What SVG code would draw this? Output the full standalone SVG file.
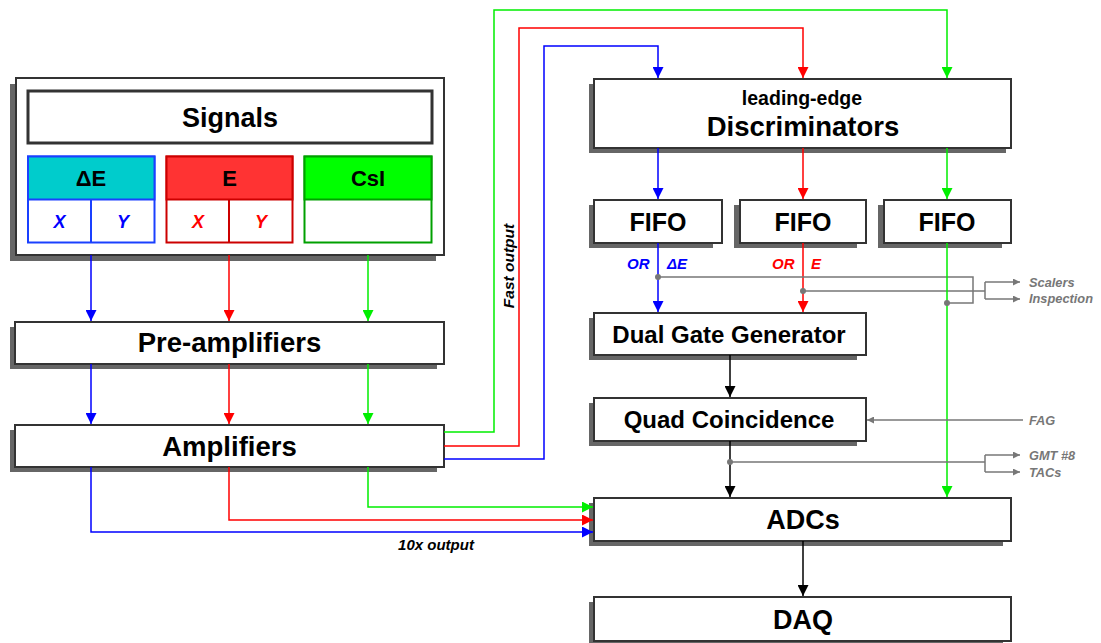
<svg xmlns="http://www.w3.org/2000/svg" width="1101" height="643" viewBox="0 0 1101 643">
<style>
.box{fill:#fff;stroke:#333;stroke-width:2}
.sh{fill:#666}
.t{font-family:"Liberation Sans",Arial,sans-serif;font-weight:bold;text-anchor:middle;fill:#000}
.lbl{font-family:"Liberation Sans",Arial,sans-serif;font-weight:bold;font-style:italic}
.g{fill:#777;font-size:12.8px}
.ln{fill:none;stroke-width:1.5}
.b{stroke:#0000ff}.r{stroke:#ff0000}.gr{stroke:#00ee00}.k{stroke:#000}.gy{stroke:#777}
</style>
<defs>
<marker id="ab" viewBox="0 0 10 10" refX="10" refY="5" markerWidth="11" markerHeight="11" markerUnits="userSpaceOnUse" orient="auto"><path d="M0,0L10,5L0,10z" fill="#0000ff"/></marker>
<marker id="ar" viewBox="0 0 10 10" refX="10" refY="5" markerWidth="11" markerHeight="11" markerUnits="userSpaceOnUse" orient="auto"><path d="M0,0L10,5L0,10z" fill="#ff0000"/></marker>
<marker id="ag" viewBox="0 0 10 10" refX="10" refY="5" markerWidth="11" markerHeight="11" markerUnits="userSpaceOnUse" orient="auto"><path d="M0,0L10,5L0,10z" fill="#00ee00"/></marker>
<marker id="ak" viewBox="0 0 10 10" refX="10" refY="5" markerWidth="11" markerHeight="11" markerUnits="userSpaceOnUse" orient="auto"><path d="M0,0L10,5L0,10z" fill="#000"/></marker>
<marker id="ay" viewBox="0 0 10 10" refX="10" refY="5" markerWidth="8" markerHeight="7" markerUnits="userSpaceOnUse" orient="auto"><path d="M0,0L10,5L0,10z" fill="#777"/></marker>
</defs>

<g id="signals">
<rect class="sh" x="10" y="84" width="426" height="177"/>
<rect class="box" x="16" y="78" width="428" height="177"/>
<rect fill="#fff" stroke="#333" stroke-width="3" x="28" y="91" width="404" height="52"/>
<text class="t" x="230" y="126.5" font-size="27">Signals</text>
<g id="sig-de">
<rect x="28" y="156.5" width="126.5" height="86" fill="#fff" stroke="#1a40ff" stroke-width="2"/>
<rect x="28" y="156.5" width="126.5" height="43" fill="#00cccc" stroke="#1a40ff" stroke-width="2"/>
<line x1="91" y1="199.5" x2="91" y2="242.5" stroke="#1a40ff" stroke-width="2"/>
<text class="t" x="91" y="185.5" font-size="22">ΔE</text>
<text class="lbl" x="59.5" y="227.5" font-size="18" fill="#0000ff" text-anchor="middle">X</text>
<text class="lbl" x="123" y="227.5" font-size="18" fill="#0000ff" text-anchor="middle">Y</text>
</g>
<g id="sig-e">
<rect x="166.5" y="156.5" width="126" height="86" fill="#fff" stroke="#cc0000" stroke-width="2"/>
<rect x="166.5" y="156.5" width="126" height="43" fill="#ff3333" stroke="#cc0000" stroke-width="2"/>
<line x1="229" y1="199.5" x2="229" y2="242.5" stroke="#cc0000" stroke-width="2"/>
<text class="t" x="229.5" y="185.5" font-size="22">E</text>
<text class="lbl" x="198" y="227.5" font-size="18" fill="#ff0000" text-anchor="middle">X</text>
<text class="lbl" x="261" y="227.5" font-size="18" fill="#ff0000" text-anchor="middle">Y</text>
</g>
<g id="sig-csi">
<rect x="304.5" y="156.5" width="127" height="86" fill="#fff" stroke="#00a000" stroke-width="2"/>
<rect x="304.5" y="156.5" width="127" height="43" fill="#00ff00" stroke="#00a000" stroke-width="2"/>
<text class="t" x="368" y="185.5" font-size="22">CsI</text>
</g>
</g>

<g id="preamp">
<rect class="sh" x="10" y="327" width="427" height="42"/>
<rect class="box" x="15" y="322" width="429" height="42"/>
<text class="t" x="229.5" y="352" font-size="27.5">Pre-amplifiers</text>
</g>
<g id="amp">
<rect class="sh" x="10" y="430" width="427" height="42"/>
<rect class="box" x="15" y="425" width="429" height="42"/>
<text class="t" x="229.5" y="455.5" font-size="27.5">Amplifiers</text>
</g>
<g id="disc">
<rect class="sh" x="589" y="84" width="417" height="69"/>
<rect class="box" x="594" y="79" width="417" height="69"/>
<text x="802" y="105" font-size="19.5" font-weight="bold" text-anchor="middle" font-family="'Liberation Sans',Arial,sans-serif" fill="#000">leading-edge</text>
<text class="t" x="803" y="136" font-size="27.5">Discriminators</text>
</g>
<g id="fifo1">
<rect class="sh" x="589" y="205" width="124" height="43"/>
<rect class="box" x="594" y="200" width="128" height="43"/>
<text class="t" x="658" y="230.5" font-size="25">FIFO</text>
</g>
<g id="fifo2">
<rect class="sh" x="734" y="205" width="123" height="43"/>
<rect class="box" x="740" y="200" width="126" height="43"/>
<text class="t" x="803" y="230.5" font-size="25">FIFO</text>
</g>
<g id="fifo3">
<rect class="sh" x="878" y="205" width="124" height="43"/>
<rect class="box" x="884" y="200" width="127" height="43"/>
<text class="t" x="947" y="230.5" font-size="25">FIFO</text>
</g>
<g id="dgg">
<rect class="sh" x="589" y="318" width="268" height="42"/>
<rect class="box" x="594" y="313" width="272" height="42"/>
<text class="t" x="729" y="342.5" font-size="24">Dual Gate Generator</text>
</g>
<g id="quad">
<rect class="sh" x="589" y="403" width="268" height="43"/>
<rect class="box" x="594" y="398" width="272" height="43"/>
<text class="t" x="729" y="428" font-size="24">Quad Coincidence</text>
</g>
<g id="adcs">
<rect class="sh" x="589" y="503" width="414" height="43"/>
<rect class="box" x="594" y="498" width="417" height="43"/>
<text class="t" x="803" y="529" font-size="27">ADCs</text>
</g>
<g id="daq">
<rect class="sh" x="589" y="602" width="414" height="44"/>
<rect class="box" x="594" y="597" width="417" height="44"/>
<text class="t" x="803" y="628.5" font-size="27">DAQ</text>
</g>

<g id="connectors">
<path class="ln b" d="M91,255V321" marker-end="url(#ab)"/>
<path class="ln r" d="M229,255V321" marker-end="url(#ar)"/>
<path class="ln gr" d="M368,255V321" marker-end="url(#ag)"/>
<path class="ln b" d="M91,364V424" marker-end="url(#ab)"/>
<path class="ln r" d="M229,364V424" marker-end="url(#ar)"/>
<path class="ln gr" d="M368,364V424" marker-end="url(#ag)"/>
<path class="ln gr" d="M444,432H494V10H947V78" marker-end="url(#ag)"/>
<path class="ln r" d="M444,446H519V28H803V78" marker-end="url(#ar)"/>
<path class="ln b" d="M444,459H544V46H658V78" marker-end="url(#ab)"/>
<path class="ln gr" d="M368,467V507H593" marker-end="url(#ag)"/>
<path class="ln r" d="M229,467V520H593" marker-end="url(#ar)"/>
<path class="ln b" d="M91,467V532H593" marker-end="url(#ab)"/>
<path class="ln b" d="M658,148V199" marker-end="url(#ab)"/>
<path class="ln r" d="M803,148V199" marker-end="url(#ar)"/>
<path class="ln gr" d="M947,148V199" marker-end="url(#ag)"/>
<path class="ln b" d="M658,243V312" marker-end="url(#ab)"/>
<path class="ln r" d="M803,243V312" marker-end="url(#ar)"/>
<path class="ln gy" d="M658,277H973V303H947M803,291H985M985,282V299"/>
<path class="ln gr" d="M947,243V497" marker-end="url(#ag)"/>
<path class="ln gy" d="M985,282H1020" marker-end="url(#ay)"/>
<path class="ln gy" d="M985,299H1020" marker-end="url(#ay)"/>
<circle cx="658" cy="277" r="3" fill="#777"/>
<circle cx="803" cy="291" r="3" fill="#777"/>
<circle cx="947" cy="303" r="3" fill="#777"/>
<path class="ln k" d="M730,355V397" marker-end="url(#ak)"/>
<path class="ln gy" d="M1023,420H867" marker-end="url(#ay)"/>
<path class="ln k" d="M730,441V497" marker-end="url(#ak)"/>
<path class="ln gy" d="M730,462H985M985,455V472"/>
<path class="ln gy" d="M985,455H1020" marker-end="url(#ay)"/>
<path class="ln gy" d="M985,472H1020" marker-end="url(#ay)"/>
<circle cx="730" cy="462" r="3" fill="#777"/>
<path class="ln k" d="M803,541V596" marker-end="url(#ak)"/>
</g>

<g id="labels">
<text class="lbl" x="627" y="269" font-size="15" fill="#0000ff">OR</text>
<text class="lbl" x="667" y="269" font-size="15" fill="#0000ff">ΔE</text>
<text class="lbl" x="772" y="269" font-size="15" fill="#ff0000">OR</text>
<text class="lbl" x="811" y="269" font-size="15" fill="#ff0000">E</text>
<text class="lbl g" x="1029" y="286.5">Scalers</text>
<text class="lbl g" x="1029" y="303">Inspection</text>
<text class="lbl g" x="1029" y="425">FAG</text>
<text class="lbl g" x="1029" y="459.5">GMT #8</text>
<text class="lbl g" x="1029" y="476.5">TACs</text>
<text class="lbl" x="436" y="550" font-size="15" fill="#000" text-anchor="middle">10x output</text>
<text class="lbl" transform="translate(514,266) rotate(-90)" font-size="15.5" fill="#000" text-anchor="middle">Fast output</text>
</g>
</svg>
